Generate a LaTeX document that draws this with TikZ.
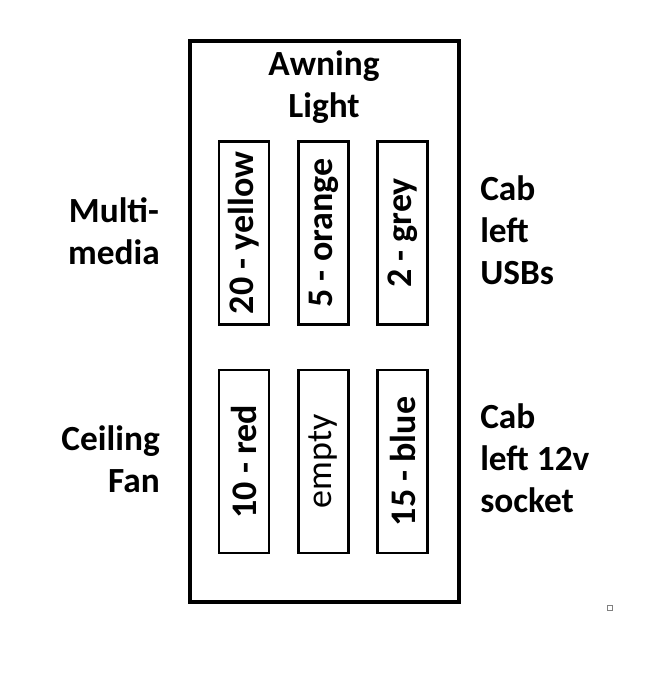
\documentclass[tikz,border=0pt]{standalone}
\usepackage{fontspec}
\setmainfont{Carlito}
\begin{document}
\begin{tikzpicture}[x=0.75pt,y=-0.75pt,
  outer/.style={draw=black,line width=3pt},
  fuse/.style={draw=black,line width=1.6pt,minimum width=50*0.75pt,minimum height=183*0.75pt,inner sep=0pt},
  fusetxt/.style={rotate=90,font=\fontsize{27}{30}\selectfont\bfseries},
  lbl/.style={font=\fontsize{26.5}{31.5}\selectfont\bfseries,inner sep=0pt}]
\useasboundingbox (0,0) rectangle (647,683);
\node[outer,minimum width=269*0.75pt,minimum height=561*0.75pt,inner sep=0pt] (box) at (324.5,321.5) {};
\node[lbl,align=center] (awning) at (324,87) {Awning\\Light};
\node[fuse] (f1) at (244,233) {};
\node[fuse] (f2) at (323.5,233) {};
\node[fuse] (f3) at (402.5,233) {};
\node[fuse] (f4) at (244,461.5) {};
\node[fuse] (f5) at (323.5,461.5) {};
\node[fuse] (f6) at (402.5,461.5) {};
\node[fusetxt] at (f1) {20 - yellow};
\node[fusetxt] at (f2) {5 - orange};
\node[fusetxt] at (f3) {2 - grey};
\node[fusetxt] at (f4) {10 - red};
\node[fusetxt,font=\fontsize{27}{30}\selectfont] at (f5) {empty};
\node[fusetxt] at (f6) {15 - blue};
\node[lbl,align=center,anchor=east] (mm) at (160,231) {Multi-\\media};
\node[lbl,align=right,anchor=east] (cf) at (160,459) {Ceiling\\Fan};
\node[lbl,align=left,anchor=west] (usb) at (480,230) {Cab\\left\\USBs};
\node[lbl,align=left,anchor=west] (sock) at (480,458) {Cab\\left 12v\\socket};
\node[draw=gray,line width=0.75pt,minimum size=5*0.75pt,inner sep=0pt] (sq) at (609.5,607.5) {};
\end{tikzpicture}
\end{document}
